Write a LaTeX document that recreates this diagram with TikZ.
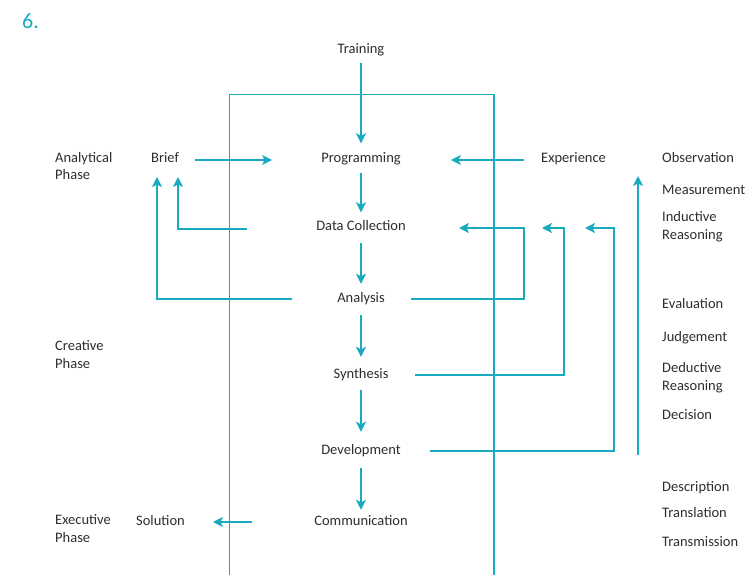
\documentclass[tikz,border=0pt]{standalone}
\usepackage{fontspec}
\setmainfont{Carlito}
\usetikzlibrary{arrows.meta}
\definecolor{flowteal}{RGB}{26,170,192}
\definecolor{txtgray}{RGB}{45,45,45}
\begin{document}
\begin{tikzpicture}[x=1pt,y=-1pt,
  lbl/.style={inner sep=0pt, text=txtgray, font=\fontsize{14.5}{17.5}\selectfont},
  stage/.style={lbl, text height=10pt, text depth=4pt, anchor=base},
  side/.style={lbl, align=left, anchor=base west},
  link/.style={draw=flowteal, line width=1.6pt},
  arr/.style={link, -{Stealth[length=10pt,width=10pt,inset=2.5pt]}}]
\useasboundingbox (0,0) rectangle (745,575);

% figure number
\node[inner sep=0pt, anchor=base west, text=flowteal, font=\fontsize{22}{24}\selectfont] (num) at (22,29) {6.};

% main sequence
\node[stage] (train) at (361,53.5) {Training};
\node[stage] (prog)  at (361,163) {Programming};
\node[stage] (dc)    at (361,231) {Data Collection};
\node[stage] (ana)   at (361,302) {Analysis};
\node[stage] (syn)   at (361,378) {Synthesis};
\node[stage] (dev)   at (361,454) {Development};
\node[stage] (comm)  at (361,525) {Communication};

% inputs and output
\node[stage, anchor=base west] (brief) at (151,163) {Brief};
\node[stage, anchor=base west] (exp)   at (541,163) {Experience};
\node[stage, anchor=base west] (sol)   at (136,525) {Solution};

% phases (base anchor sits on the last line)
\node[side] (ph1) at (55,180) {Analytical\\Phase};
\node[side] (ph2) at (55,368) {Creative\\Phase};
\node[side] (ph3) at (55,542) {Executive\\Phase};

% activities
\node[side] (obs)  at (662,162.5) {Observation};
\node[side] (meas) at (662,194.5) {Measurement};
\node[side] (ind)  at (662,239.5) {Inductive\\Reasoning};
\node[side] (eval) at (662,308.5) {Evaluation};
\node[side] (judg) at (662,341.5) {Judgement};
\node[side] (ded)  at (662,390) {Deductive\\Reasoning};
\node[side] (deci) at (662,419.5) {Decision};
\node[side] (desc) at (662,491.5) {Description};
\node[side] (trl)  at (662,517.5) {Translation};
\node[side] (trm)  at (662,546) {Transmission};

% frame
\coordinate (fl) at (229.5,575);
\coordinate (ft) at (494,94.5);
\coordinate (fr) at (494,575);
\draw[link] (fl) |- (ft) -- (fr);

% downward flow
\draw[arr, shorten <=5.5pt, shorten >=9.5pt] (train.south) -- (prog.north);
\draw[arr, shorten <=5.5pt, shorten >=8.5pt] (prog.south) -- (dc.north);
\draw[arr, shorten <=7.5pt, shorten >=8pt] (dc.south) -- (ana.north);
\draw[arr, shorten <=8.5pt, shorten >=11pt] (ana.south) -- (syn.north);
\draw[arr, shorten <=7.5pt, shorten >=12pt] (syn.south) -- (dev.north);
\draw[arr, shorten <=9.5pt, shorten >=5pt] (dev.south) -- (comm.north);

% side inputs
\draw[arr, shorten <=16pt, shorten >=49pt] (brief.east) -- (prog.west);
\draw[arr, shorten <=17pt, shorten >=50pt] (exp.west) -- (prog.east);
\draw[arr, shorten <=62pt, shorten >=28pt] (comm.west) -- (sol.east);

% feedback to the brief
\coordinate (bA) at (178,177);
\coordinate (bB) at (157,177);
\draw[arr] ([xshift=-69pt,yshift=-1pt]dc.west) -| (bA);
\draw[arr] ([xshift=-45pt]ana.west) -| (bB);

% feedback to data collection
\coordinate (xa) at (524,0);
\coordinate (xs) at (564,0);
\coordinate (xd) at (614,0);
\coordinate (ta) at (459,228);
\coordinate (ts) at (542,228);
\coordinate (td) at (585,228);
\draw[arr] ([xshift=26pt]ana.east) -| (xa |- ta) -- (ta);
\draw[arr] ([xshift=26pt]syn.east) -| (xs |- ts) -- (ts);
\draw[arr] ([xshift=29pt]dev.east) -| (xd |- td) -- (td);

% upward arrow beside the activities
\coordinate (ub) at (638,455);
\coordinate (ut) at (638,176);
\draw[arr] (ub) -- (ut);
\end{tikzpicture}
\end{document}
